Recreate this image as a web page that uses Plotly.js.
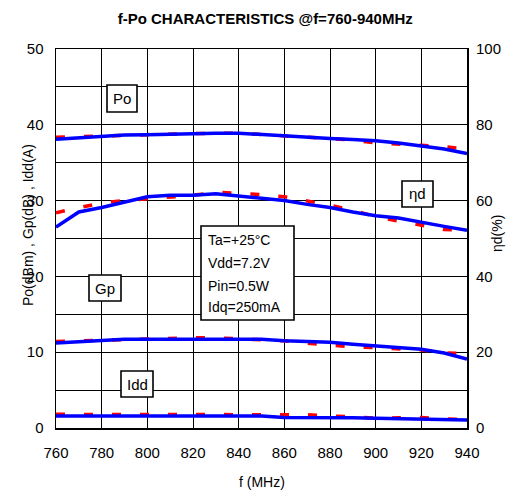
<!DOCTYPE html>
<html><head><meta charset="utf-8">
<script src="https://cdn.plot.ly/plotly-3.0.1.min.js"></script>
<style>html,body{margin:0;padding:0;background:#fff}#chart{width:515px;height:503px}</style>
</head><body><div id="chart"></div>
<script>
var freq = [760,770,780,790,800,810,820,830,840,850,860,870,880,890,900,910,920,930,940];
var poBlue = [38.1,38.3,38.5,38.65,38.7,38.8,38.9,38.9,38.9,38.7,38.5,38.35,38.2,38.05,37.9,37.6,37.2,36.8,36.2];
var poRed  = [38.35,38.4,38.5,38.6,38.7,38.8,38.9,38.9,38.9,38.7,38.5,38.4,38.2,38.0,37.6,37.5,37.3,37.1,36.8];
var etaBlue = [53.0,57.0,58.2,59.6,61.0,61.4,61.4,61.8,61.2,60.6,60.0,59.0,58.2,57.0,56.0,55.4,54.2,53.2,52.2];
var etaRed  = [56.8,58.2,59.4,60.0,60.4,61.0,61.4,62.2,62.0,61.6,61.0,60.0,58.8,57.4,55.8,54.6,53.6,52.4,52.2];
var gpBlue = [11.2,11.35,11.5,11.7,11.7,11.7,11.7,11.7,11.7,11.7,11.5,11.4,11.3,11.05,10.8,10.6,10.4,9.9,9.1];
var gpRed  = [11.4,11.5,11.6,11.7,11.8,11.9,11.9,11.9,11.8,11.7,11.5,11.2,10.9,10.7,10.6,10.4,10.3,9.9,9.8];
var iddBlue = [1.58,1.58,1.58,1.58,1.58,1.58,1.58,1.58,1.58,1.58,1.4,1.4,1.38,1.35,1.28,1.25,1.2,1.1,1.05];
var iddRed  = [1.8,1.8,1.8,1.8,1.8,1.8,1.8,1.8,1.8,1.8,1.8,1.75,1.6,1.45,1.3,1.35,1.4,1.2,1.1];
var xTicks = [760,780,800,820,840,860,880,900,920,940];
var leftTicks = [0,10,20,30,40,50];
var rightTicks = [0,20,40,60,80,100];
var curveLabels = ["Po","ηd","Gp","Idd"];
var conditions = ["Ta=+25°C","Vdd=7.2V","Pin=0.5W","Idq=250mA"];

var red = '#ff0000', blue = '#0000ff';
function redT(y, ax){return {x:freq,y:y,yaxis:ax,mode:'lines',line:{color:red,width:3.5,dash:'9px,19px'},hoverinfo:'skip'};}
function blueT(y, ax){return {x:freq,y:y,yaxis:ax,mode:'lines',line:{color:blue,width:3.5},hoverinfo:'skip'};}
var data = [
  redT(poRed,'y'), redT(gpRed,'y'), redT(iddRed,'y'), redT(etaRed,'y2'),
  blueT(poBlue,'y'), blueT(gpBlue,'y'), blueT(iddBlue,'y'), blueT(etaBlue,'y2')
];
var F = 'Liberation Sans, Arial, sans-serif';
var L = 56, R = 467, T = 49, B = 428;
function px(x){return (x-L)/(R-L);}
function py(y){return 1-(y-T)/(B-T);}
var boxPx = [[107,137,85,112],[402,433,181,207],[89,121,275,301],[121,153,371,397]];
var shapes = [];
var ann = [];
boxPx.forEach(function(b,i){
  shapes.push({type:'rect',xref:'paper',yref:'paper',x0:px(b[0]),x1:px(b[1]),y0:py(b[3]),y1:py(b[2]),line:{color:'#000',width:1.6},fillcolor:'#fff',layer:'above'});
  ann.push({text:curveLabels[i],x:px((b[0]+b[1])/2),y:py((b[2]+b[3])/2),xref:'paper',yref:'paper',xanchor:'center',yanchor:'middle',showarrow:false,font:{family:F,size:15,color:'#000'}});
});
shapes.push({type:'rect',xref:'paper',yref:'paper',x0:px(201),x1:px(294),y0:py(320),y1:py(226),line:{color:'#000',width:1.6},fillcolor:'#fff',layer:'above'});
var lineY = [240,263.3,285.7,306.7];
conditions.forEach(function(t,i){
  ann.push({text:t,x:px(206),y:py(lineY[i]),xref:'paper',yref:'paper',xanchor:'left',yanchor:'middle',showarrow:false,font:{family:F,size:14,color:'#000'}});
});
ann.push({text:'Po(dBm) , Gp(dB) , Idd(A)',x:px(18),y:py(225),xref:'paper',yref:'paper',showarrow:false,textangle:-90,font:{family:F,size:14,color:'#000'}});
ann.push({text:'ηd(%)',x:px(507),y:py(234),xref:'paper',yref:'paper',showarrow:false,textangle:-90,font:{family:F,size:14,color:'#000'}});
ann.push({text:'f (MHz)',x:px(262),y:py(492),xref:'paper',yref:'paper',showarrow:false,font:{family:F,size:14,color:'#000'}});

var layout = {
  width:515,height:503,
  margin:{l:L,r:515-R,t:T,b:503-B},
  paper_bgcolor:'#fff',plot_bgcolor:'#fff',
  showlegend:false,
  font:{family:F,size:14,color:'#000'},
  title:{text:'<b>f-Po CHARACTERISTICS @f=760-940MHz</b>',x:0.515,xanchor:'center',y:0.962,yanchor:'middle',font:{family:F,size:15,color:'#000'}},
  xaxis:{range:[760,940],tickvals:xTicks,ticktext:xTicks.map(String),showgrid:true,gridcolor:'#000',gridwidth:1,
    showline:true,linecolor:'#000',linewidth:1.5,mirror:true,ticks:'',zeroline:false,ticklabelstandoff:10,tickfont:{size:15}},
  yaxis:{range:[0,50],tickvals:leftTicks,ticktext:leftTicks.map(String),showgrid:true,gridcolor:'#000',gridwidth:1,
    minor:{dtick:5,showgrid:true,gridcolor:'#000',gridwidth:1},
    showline:true,linecolor:'#000',linewidth:1.5,mirror:true,ticks:'',zeroline:false,ticklabelstandoff:8,tickfont:{size:15}},
  yaxis2:{range:[0,100],tickvals:rightTicks,ticktext:rightTicks.map(String),overlaying:'y',side:'right',showgrid:false,
    showline:false,ticks:'',zeroline:false,ticklabelstandoff:8,tickfont:{size:15}},
  shapes:shapes,
  annotations:ann
};
Plotly.newPlot('chart',data,layout,{displayModeBar:false,staticPlot:true});
</script></body></html>
